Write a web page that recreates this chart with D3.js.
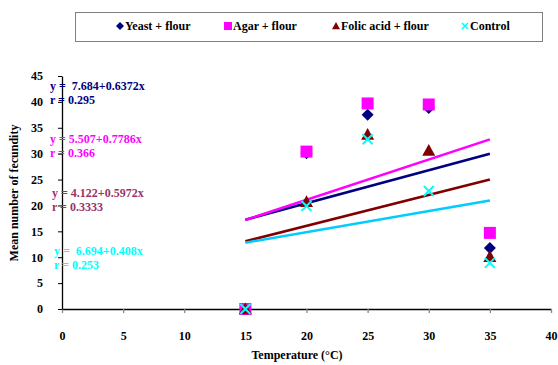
<!DOCTYPE html>
<html>
<head>
<meta charset="utf-8">
<script src="https://cdn.jsdelivr.net/npm/d3@7"></script>
<style>
  body { margin: 0; background: #fff; }
  svg text { font-family: "Liberation Serif", "Times New Roman", serif; font-weight: bold; white-space: pre; }
</style>
</head>
<body>
<div id="canvas"></div>
<script>
// Data
var temps = [15, 20, 25, 30, 35],
	yeast = [0, 30.1, 37.5, 38.8, 11.8],
	agar = [0, 30.4, 39.7, 39.5, 14.7],
	folic = [0, 20.7, 33.7, 30.6, 10.1],
	control = [0, 19.9, 32.8, 22.8, 8.9],
	xTicks = [0, 5, 10, 15, 20, 25, 30, 35, 40],
	yTicks = [0, 5, 10, 15, 20, 25, 30, 35, 40, 45],
	seriesNames = ['Yeast + flour', 'Agar + flour', 'Folic acid + flour', 'Control'],
	fits = [[7.684, 0.6372], [5.507, 0.7786], [4.122, 0.5972], [6.694, 0.408]],
	eqLabels = ['y =  7.684+0.6372x', 'y = 5.507+0.7786x', 'y = 4.122+0.5972x', 'y =  6.694+0.408x'],
	rLabels = ['r = 0.295', 'r = 0.366', 'r = 0.3333', 'r = 0.253'];

var series = [
	{ name: seriesNames[0], values: yeast, shape: 'diamond', size: 6, color: '#000080', line: '#000080', text: '#000080', fit: fits[0], eq: eqLabels[0], r: rLabels[0], eqPos: [50, 86] },
	{ name: seriesNames[1], values: agar, shape: 'square', size: 6, color: '#FF00FF', line: '#FF00FF', text: '#FF00FF', fit: fits[1], eq: eqLabels[1], r: rLabels[1], eqPos: [50, 139] },
	{ name: seriesNames[2], values: folic, shape: 'triangle', size: 6.5, color: '#800000', line: '#800000', text: '#993366', fit: fits[2], eq: eqLabels[2], r: rLabels[2], eqPos: [52, 193] },
	{ name: seriesNames[3], values: control, shape: 'x', size: 5, color: '#00FFFF', line: '#00CCFF', text: '#00FFFF', fit: fits[3], eq: eqLabels[3], r: rLabels[3], eqPos: [54, 251] }
];

var width = 558, height = 365,
	x = d3.scaleLinear().domain([0, 40]).range([62, 551]),
	y = d3.scaleLinear().domain([0, 45]).range([309, 76]);

var svg = d3.select('#canvas').append('svg')
	.attr('width', width)
	.attr('height', height);

// Axes
var gx = svg.append('g')
	.attr('transform', 'translate(0,' + y(0) + ')')
	.call(d3.axisBottom(x).tickValues(xTicks).tickSize(4).tickSizeOuter(0).tickPadding(18));
var gy = svg.append('g')
	.attr('transform', 'translate(' + x(0) + ',0)')
	.call(d3.axisLeft(y).tickValues(yTicks).tickSize(4).tickSizeOuter(0).tickPadding(15));
[gx, gy].forEach(function(g) {
	g.selectAll('path, line').attr('stroke', '#000').attr('stroke-width', 1.3);
	g.selectAll('text').attr('font-size', 12).attr('fill', '#000')
		.attr('font-family', '"Liberation Serif", serif').attr('font-weight', 'bold');
});
gy.selectAll('.tick line').attr('stroke-width', 1);
gx.selectAll('.tick line').attr('stroke', '#888');

// Axis titles
svg.append('text')
	.attr('x', 297).attr('y', 359)
	.attr('text-anchor', 'middle').attr('font-size', 12)
	.text('Temperature (°C)');
svg.append('text')
	.attr('transform', 'translate(18,193) rotate(-90)')
	.attr('text-anchor', 'middle').attr('font-size', 12)
	.text('Mean number of fecundity');

// Regression lines
series.forEach(function(s) {
	svg.append('line')
		.attr('x1', x(15)).attr('y1', y(s.fit[0] + s.fit[1] * 15))
		.attr('x2', x(35)).attr('y2', y(s.fit[0] + s.fit[1] * 35))
		.attr('stroke', s.line).attr('stroke-width', 2.5);
});

// Markers (h = half size in px)
function drawMarker(g, shape, color, cx, cy, h) {
	var d;
	if (shape === 'x') {
		g.append('path')
			.attr('d', 'M' + (cx - h) + ',' + (cy - h) + 'L' + (cx + h) + ',' + (cy + h) +
				'M' + (cx - h) + ',' + (cy + h) + 'L' + (cx + h) + ',' + (cy - h))
			.attr('stroke', color).attr('stroke-width', h > 4 ? 2 : 1.6).attr('fill', 'none');
		return;
	}
	if (shape === 'diamond') {
		d = 'M' + cx + ',' + (cy - h) + 'L' + (cx + h) + ',' + cy + 'L' + cx + ',' + (cy + h) + 'L' + (cx - h) + ',' + cy + 'Z';
	} else if (shape === 'square') {
		d = 'M' + (cx - h) + ',' + (cy - h) + 'h' + (2 * h) + 'v' + (2 * h) + 'h' + (-2 * h) + 'Z';
	} else {
		d = 'M' + cx + ',' + (cy - h) + 'L' + (cx + h) + ',' + (cy + h * 0.8) + 'L' + (cx - h) + ',' + (cy + h * 0.8) + 'Z';
	}
	g.append('path').attr('d', d).attr('fill', color);
}
series.forEach(function(s) {
	var g = svg.append('g');
	s.values.forEach(function(v, i) {
		drawMarker(g, s.shape, s.color, x(temps[i]), y(v), s.size);
	});
});

// Equations
series.forEach(function(s) {
	svg.append('text').attr('x', s.eqPos[0]).attr('y', s.eqPos[1] + 4)
		.attr('font-size', 12).attr('fill', s.text).text(s.eq);
	svg.append('text').attr('x', s.eqPos[0]).attr('y', s.eqPos[1] + 18)
		.attr('font-size', 12).attr('fill', s.text).text(s.r);
});

// Legend
svg.append('rect')
	.attr('x', 75.5).attr('y', 12.5).attr('width', 467).attr('height', 29)
	.attr('fill', '#fff').attr('stroke', '#808080').attr('stroke-width', 1);
var legendX = [120, 228, 336, 465];
series.forEach(function(s, i) {
	var g = svg.append('g');
	drawMarker(g, s.shape, s.color, legendX[i], 26, s.shape === 'x' ? 3 : 4);
	svg.append('text').attr('x', legendX[i] + 5).attr('y', 30)
		.attr('font-size', 12).attr('fill', '#000').text(s.name);
});
</script>
</body>
</html>
